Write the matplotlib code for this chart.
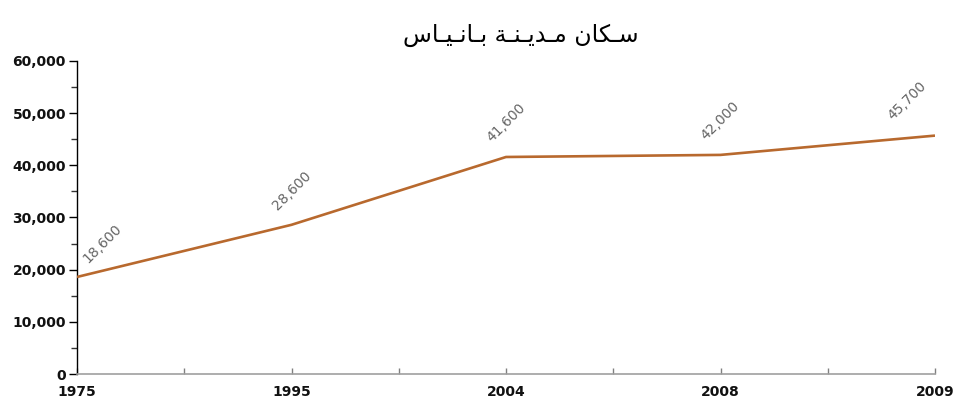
import matplotlib
matplotlib.use("Agg")
import matplotlib.pyplot as plt
from matplotlib.ticker import FuncFormatter, MultipleLocator

# data
years = ["1975", "1995", "2004", "2008", "2009"]
population = [18600, 28600, 41600, 42000, 45700]

# title "سكان مدينة بانياس" in presentation forms, reversed for left-to-right drawing
TW = "\u0640"
title_words = [
    "\uFEB3" + TW + "\uFEDC\uFE8E\uFEE5",
    "\uFEE3" + TW + "\uFEAA\uFEF3" + TW + "\uFEE8" + TW + "\uFE94",
    "\uFE91" + TW + "\uFE8E\uFEE7" + TW + "\uFEF4" + TW + "\uFE8E\uFEB1",
]
title = " ".join(title_words)[::-1]

LINE = "#b8692e"

fig = plt.figure(figsize=(9.6, 4.16), dpi=100)
ax = fig.add_axes([77 / 960, 42 / 416, (935 - 77) / 960, (374 - 61) / 416])

x = list(range(len(years)))
ax.plot(x, population, color=LINE, lw=1.9, solid_capstyle="butt", zorder=3)

for i, v in enumerate(population):
    if i == 0:
        ha, off = "left", (2, 8)
    elif i == len(population) - 1:
        ha, off = "right", (-4, 9)
    else:
        ha, off = "center", (0, 9)
    ax.annotate(f"{v:,}", (i, v), xytext=off, textcoords="offset points",
                rotation=45, ha=ha, va="bottom", fontsize=10, color="#666666")

ax.set_xlim(0, len(years) - 1)
ax.set_ylim(0, 60000)
ax.set_xticks(x)
ax.set_xticklabels(years)
ax.set_xticks([i + 0.5 for i in x[:-1]], minor=True)
ax.yaxis.set_major_locator(MultipleLocator(10000))
ax.yaxis.set_minor_locator(MultipleLocator(5000))
ax.yaxis.set_major_formatter(FuncFormatter(lambda v, _: f"{int(v):,}"))

for s in ("top", "right"):
    ax.spines[s].set_visible(False)
ax.spines["left"].set_color("black")
ax.spines["left"].set_linewidth(1.0)
ax.spines["bottom"].set_color("#a0a0a0")
ax.spines["bottom"].set_linewidth(1.2)

ax.tick_params(axis="y", which="major", length=6, width=1, color="black", pad=2)
ax.tick_params(axis="y", which="minor", length=4, width=1, color="#333333")
ax.tick_params(axis="x", which="both", direction="in", length=4, width=1,
               color="#808080", pad=8)
for lab in ax.get_xticklabels() + ax.get_yticklabels():
    lab.set_fontweight("bold")
    lab.set_fontsize(10)
    lab.set_color("#111111")

fig.text(521 / 960, 1 - 35 / 416, title, ha="center", va="center",
         fontsize=17, family=["DejaVu Sans"], color="black")

fig.savefig("out.png", dpi=100)
